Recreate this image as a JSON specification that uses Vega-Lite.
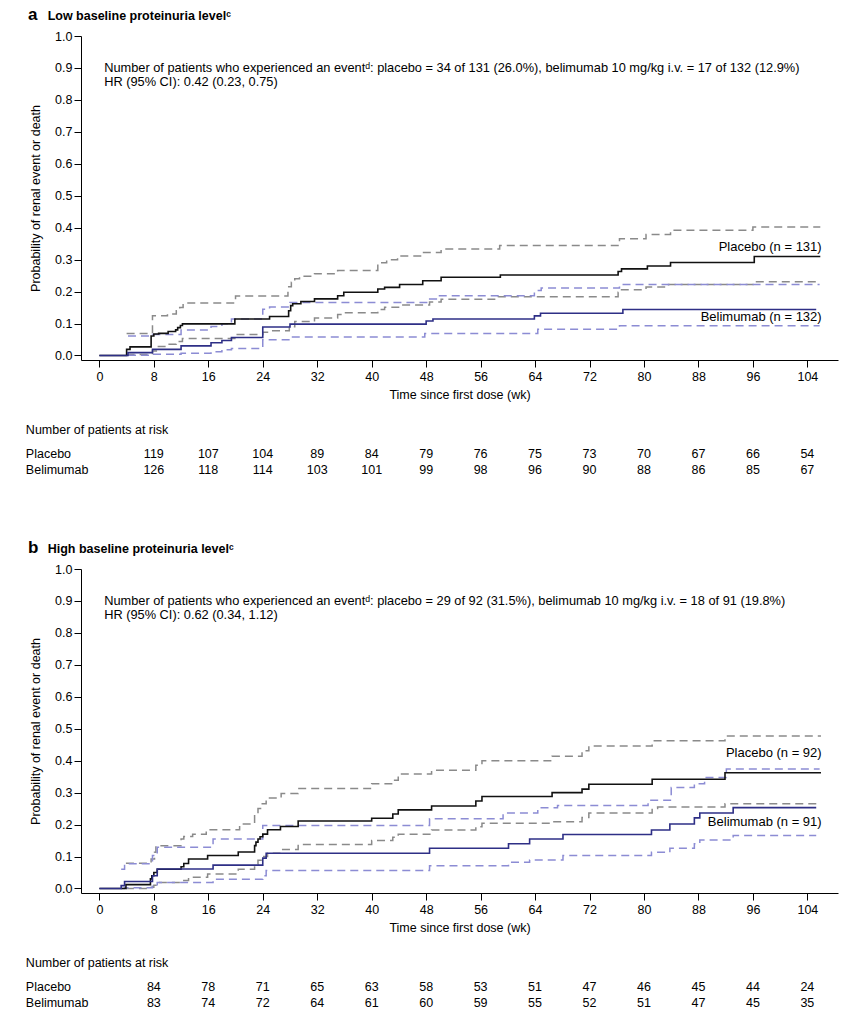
{
  "$schema": "https://vega.github.io/schema/vega-lite/v6.json",
  "padding": {"left": 25, "top": 5, "right": 5, "bottom": 5},
  "background": "white",
  "config": {
    "font": "Liberation Sans",
    "view": {"stroke": null},
    "axis": {"domainColor": "#000", "tickColor": "#000", "labelColor": "#000", "titleColor": "#000", "labelFontSize": 12.5, "titleFontSize": 12.5, "titleFontWeight": "normal", "grid": false, "tickSize": 7, "labelFont": "Liberation Sans", "titleFont": "Liberation Sans", "labelOverlap": false, "labelFlush": false},
    "axisX": {"labelPadding": 3, "titlePadding": 6},
    "axisY": {"labelPadding": 2, "titlePadding": 12},
    "title": {"color": "#000", "subtitleColor": "#000"},
    "text": {"font": "Liberation Sans", "fontSize": 12.5, "color": "#000"}
  },
  "datasets": {
    "curves": [
      {"p":"a","s":"P","w":0,"v":0},{"p":"a","s":"P","w":4.0,"v":0.019},{"p":"a","s":"P","w":4.5,"v":0.027},{"p":"a","s":"P","w":7.6,"v":0.061},{"p":"a","s":"P","w":8.0,"v":0.067},{"p":"a","s":"P","w":8.7,"v":0.069},{"p":"a","s":"P","w":10.1,"v":0.075},{"p":"a","s":"P","w":11.2,"v":0.08},{"p":"a","s":"P","w":11.5,"v":0.087},{"p":"a","s":"P","w":11.9,"v":0.094},{"p":"a","s":"P","w":12.2,"v":0.099},{"p":"a","s":"P","w":19.9,"v":0.114},{"p":"a","s":"P","w":25.0,"v":0.122},{"p":"a","s":"P","w":27.8,"v":0.14},{"p":"a","s":"P","w":28.1,"v":0.156},{"p":"a","s":"P","w":28.4,"v":0.162},{"p":"a","s":"P","w":29.6,"v":0.169},{"p":"a","s":"P","w":31.6,"v":0.177},{"p":"a","s":"P","w":35.0,"v":0.187},{"p":"a","s":"P","w":35.9,"v":0.198},{"p":"a","s":"P","w":40.9,"v":0.208},{"p":"a","s":"P","w":41.9,"v":0.213},{"p":"a","s":"P","w":44.1,"v":0.222},{"p":"a","s":"P","w":47.5,"v":0.234},{"p":"a","s":"P","w":50.2,"v":0.245},{"p":"a","s":"P","w":58.9,"v":0.252},{"p":"a","s":"P","w":76.2,"v":0.263},{"p":"a","s":"P","w":76.7,"v":0.271},{"p":"a","s":"P","w":80.5,"v":0.28},{"p":"a","s":"P","w":83.9,"v":0.291},{"p":"a","s":"P","w":96.2,"v":0.31},{"p":"a","s":"P","w":105.9,"v":0.31},
      {"p":"a","s":"PU","w":4.0,"v":0.069},{"p":"a","s":"PU","w":7.8,"v":0.124},{"p":"a","s":"PU","w":10.0,"v":0.13},{"p":"a","s":"PU","w":11.3,"v":0.14},{"p":"a","s":"PU","w":11.8,"v":0.15},{"p":"a","s":"PU","w":12.3,"v":0.164},{"p":"a","s":"PU","w":20.0,"v":0.186},{"p":"a","s":"PU","w":27.7,"v":0.215},{"p":"a","s":"PU","w":28.2,"v":0.229},{"p":"a","s":"PU","w":28.7,"v":0.24},{"p":"a","s":"PU","w":29.4,"v":0.248},{"p":"a","s":"PU","w":31.6,"v":0.256},{"p":"a","s":"PU","w":35.0,"v":0.266},{"p":"a","s":"PU","w":40.9,"v":0.29},{"p":"a","s":"PU","w":42.2,"v":0.3},{"p":"a","s":"PU","w":43.8,"v":0.311},{"p":"a","s":"PU","w":47.5,"v":0.322},{"p":"a","s":"PU","w":50.2,"v":0.333},{"p":"a","s":"PU","w":58.8,"v":0.344},{"p":"a","s":"PU","w":76.4,"v":0.365},{"p":"a","s":"PU","w":80.3,"v":0.379},{"p":"a","s":"PU","w":83.9,"v":0.392},{"p":"a","s":"PU","w":96.0,"v":0.402},{"p":"a","s":"PU","w":105.9,"v":0.402},
      {"p":"a","s":"PL","w":4.0,"v":0.003},{"p":"a","s":"PL","w":7.8,"v":0.014},{"p":"a","s":"PL","w":8.5,"v":0.028},{"p":"a","s":"PL","w":10.0,"v":0.035},{"p":"a","s":"PL","w":11.3,"v":0.044},{"p":"a","s":"PL","w":12.2,"v":0.053},{"p":"a","s":"PL","w":19.9,"v":0.066},{"p":"a","s":"PL","w":24.0,"v":0.073},{"p":"a","s":"PL","w":25.0,"v":0.077},{"p":"a","s":"PL","w":27.9,"v":0.09},{"p":"a","s":"PL","w":28.7,"v":0.106},{"p":"a","s":"PL","w":31.6,"v":0.117},{"p":"a","s":"PL","w":35.0,"v":0.128},{"p":"a","s":"PL","w":36.0,"v":0.134},{"p":"a","s":"PL","w":40.9,"v":0.144},{"p":"a","s":"PL","w":41.9,"v":0.151},{"p":"a","s":"PL","w":44.1,"v":0.158},{"p":"a","s":"PL","w":48.5,"v":0.167},{"p":"a","s":"PL","w":50.2,"v":0.176},{"p":"a","s":"PL","w":58.6,"v":0.184},{"p":"a","s":"PL","w":76.2,"v":0.198},{"p":"a","s":"PL","w":76.7,"v":0.206},{"p":"a","s":"PL","w":80.3,"v":0.214},{"p":"a","s":"PL","w":83.6,"v":0.222},{"p":"a","s":"PL","w":96.0,"v":0.231},{"p":"a","s":"PL","w":105.9,"v":0.231},
      {"p":"a","s":"B","w":0,"v":0},{"p":"a","s":"B","w":4.2,"v":0.009},{"p":"a","s":"B","w":7.8,"v":0.019},{"p":"a","s":"B","w":12.0,"v":0.03},{"p":"a","s":"B","w":16.4,"v":0.04},{"p":"a","s":"B","w":18.0,"v":0.047},{"p":"a","s":"B","w":19.4,"v":0.056},{"p":"a","s":"B","w":24.0,"v":0.089},{"p":"a","s":"B","w":28.0,"v":0.098},{"p":"a","s":"B","w":48.0,"v":0.108},{"p":"a","s":"B","w":49.0,"v":0.114},{"p":"a","s":"B","w":63.9,"v":0.124},{"p":"a","s":"B","w":64.8,"v":0.132},{"p":"a","s":"B","w":76.9,"v":0.144},{"p":"a","s":"B","w":105.3,"v":0.144},
      {"p":"a","s":"BU","w":4.2,"v":0.061},{"p":"a","s":"BU","w":7.8,"v":0.066},{"p":"a","s":"BU","w":12.0,"v":0.08},{"p":"a","s":"BU","w":16.4,"v":0.091},{"p":"a","s":"BU","w":18.0,"v":0.099},{"p":"a","s":"BU","w":19.4,"v":0.114},{"p":"a","s":"BU","w":24.0,"v":0.145},{"p":"a","s":"BU","w":25.0,"v":0.152},{"p":"a","s":"BU","w":28.0,"v":0.166},{"p":"a","s":"BU","w":48.3,"v":0.177},{"p":"a","s":"BU","w":49.5,"v":0.187},{"p":"a","s":"BU","w":63.9,"v":0.203},{"p":"a","s":"BU","w":64.9,"v":0.211},{"p":"a","s":"BU","w":76.4,"v":0.222},{"p":"a","s":"BU","w":105.8,"v":0.222},
      {"p":"a","s":"BL","w":4.2,"v":0.001},{"p":"a","s":"BL","w":7.8,"v":0.004},{"p":"a","s":"BL","w":12.0,"v":0.007},{"p":"a","s":"BL","w":16.4,"v":0.012},{"p":"a","s":"BL","w":18.0,"v":0.018},{"p":"a","s":"BL","w":19.4,"v":0.022},{"p":"a","s":"BL","w":24.0,"v":0.049},{"p":"a","s":"BL","w":28.0,"v":0.058},{"p":"a","s":"BL","w":47.8,"v":0.069},{"p":"a","s":"BL","w":64.4,"v":0.082},{"p":"a","s":"BL","w":76.4,"v":0.093},{"p":"a","s":"BL","w":105.8,"v":0.093},
      {"p":"b","s":"P","w":0,"v":0},{"p":"b","s":"P","w":3.9,"v":0.012},{"p":"b","s":"P","w":7.5,"v":0.03},{"p":"b","s":"P","w":7.7,"v":0.04},{"p":"b","s":"P","w":8.0,"v":0.05},{"p":"b","s":"P","w":8.5,"v":0.06},{"p":"b","s":"P","w":12.0,"v":0.068},{"p":"b","s":"P","w":12.4,"v":0.078},{"p":"b","s":"P","w":13.1,"v":0.092},{"p":"b","s":"P","w":15.9,"v":0.103},{"p":"b","s":"P","w":20.4,"v":0.114},{"p":"b","s":"P","w":22.8,"v":0.134},{"p":"b","s":"P","w":23.0,"v":0.145},{"p":"b","s":"P","w":23.3,"v":0.155},{"p":"b","s":"P","w":23.6,"v":0.162},{"p":"b","s":"P","w":24.0,"v":0.17},{"p":"b","s":"P","w":24.7,"v":0.184},{"p":"b","s":"P","w":26.6,"v":0.194},{"p":"b","s":"P","w":29.2,"v":0.211},{"p":"b","s":"P","w":40.0,"v":0.22},{"p":"b","s":"P","w":43.1,"v":0.233},{"p":"b","s":"P","w":43.9,"v":0.246},{"p":"b","s":"P","w":48.8,"v":0.258},{"p":"b","s":"P","w":55.3,"v":0.274},{"p":"b","s":"P","w":56.2,"v":0.288},{"p":"b","s":"P","w":66.5,"v":0.3},{"p":"b","s":"P","w":70.9,"v":0.311},{"p":"b","s":"P","w":71.9,"v":0.326},{"p":"b","s":"P","w":81.2,"v":0.342},{"p":"b","s":"P","w":91.9,"v":0.362},{"p":"b","s":"P","w":106.0,"v":0.362},
      {"p":"b","s":"PU","w":3.9,"v":0.079},{"p":"b","s":"PU","w":7.6,"v":0.092},{"p":"b","s":"PU","w":8.1,"v":0.113},{"p":"b","s":"PU","w":8.3,"v":0.134},{"p":"b","s":"PU","w":12.0,"v":0.155},{"p":"b","s":"PU","w":12.4,"v":0.163},{"p":"b","s":"PU","w":13.7,"v":0.17},{"p":"b","s":"PU","w":15.7,"v":0.184},{"p":"b","s":"PU","w":20.6,"v":0.202},{"p":"b","s":"PU","w":22.8,"v":0.232},{"p":"b","s":"PU","w":23.3,"v":0.25},{"p":"b","s":"PU","w":23.8,"v":0.265},{"p":"b","s":"PU","w":24.5,"v":0.283},{"p":"b","s":"PU","w":26.7,"v":0.297},{"p":"b","s":"PU","w":29.2,"v":0.313},{"p":"b","s":"PU","w":40.0,"v":0.328},{"p":"b","s":"PU","w":43.1,"v":0.339},{"p":"b","s":"PU","w":43.9,"v":0.358},{"p":"b","s":"PU","w":48.8,"v":0.37},{"p":"b","s":"PU","w":55.3,"v":0.386},{"p":"b","s":"PU","w":56.2,"v":0.4},{"p":"b","s":"PU","w":66.5,"v":0.414},{"p":"b","s":"PU","w":70.9,"v":0.431},{"p":"b","s":"PU","w":71.9,"v":0.446},{"p":"b","s":"PU","w":81.2,"v":0.462},{"p":"b","s":"PU","w":91.9,"v":0.477},{"p":"b","s":"PU","w":106.0,"v":0.477},
      {"p":"b","s":"PL","w":3.9,"v":0.0},{"p":"b","s":"PL","w":7.5,"v":0.004},{"p":"b","s":"PL","w":8.0,"v":0.01},{"p":"b","s":"PL","w":8.5,"v":0.019},{"p":"b","s":"PL","w":12.4,"v":0.025},{"p":"b","s":"PL","w":13.1,"v":0.035},{"p":"b","s":"PL","w":15.9,"v":0.045},{"p":"b","s":"PL","w":20.4,"v":0.06},{"p":"b","s":"PL","w":22.8,"v":0.075},{"p":"b","s":"PL","w":23.3,"v":0.088},{"p":"b","s":"PL","w":24.0,"v":0.1},{"p":"b","s":"PL","w":24.7,"v":0.11},{"p":"b","s":"PL","w":26.6,"v":0.122},{"p":"b","s":"PL","w":29.2,"v":0.138},{"p":"b","s":"PL","w":40.0,"v":0.15},{"p":"b","s":"PL","w":43.1,"v":0.16},{"p":"b","s":"PL","w":43.9,"v":0.17},{"p":"b","s":"PL","w":48.8,"v":0.183},{"p":"b","s":"PL","w":55.3,"v":0.193},{"p":"b","s":"PL","w":56.2,"v":0.204},{"p":"b","s":"PL","w":66.5,"v":0.209},{"p":"b","s":"PL","w":70.9,"v":0.222},{"p":"b","s":"PL","w":71.9,"v":0.236},{"p":"b","s":"PL","w":81.2,"v":0.25},{"p":"b","s":"PL","w":82.0,"v":0.255},{"p":"b","s":"PL","w":91.9,"v":0.265},{"p":"b","s":"PL","w":106.0,"v":0.265},
      {"p":"b","s":"B","w":0,"v":0},{"p":"b","s":"B","w":3.2,"v":0.009},{"p":"b","s":"B","w":3.7,"v":0.022},{"p":"b","s":"B","w":7.8,"v":0.04},{"p":"b","s":"B","w":8.5,"v":0.061},{"p":"b","s":"B","w":16.7,"v":0.073},{"p":"b","s":"B","w":24.0,"v":0.095},{"p":"b","s":"B","w":24.5,"v":0.11},{"p":"b","s":"B","w":48.5,"v":0.126},{"p":"b","s":"B","w":60.1,"v":0.14},{"p":"b","s":"B","w":63.2,"v":0.155},{"p":"b","s":"B","w":68.1,"v":0.169},{"p":"b","s":"B","w":81.1,"v":0.183},{"p":"b","s":"B","w":83.8,"v":0.202},{"p":"b","s":"B","w":87.4,"v":0.221},{"p":"b","s":"B","w":88.2,"v":0.236},{"p":"b","s":"B","w":93.1,"v":0.253},{"p":"b","s":"B","w":105.3,"v":0.253},
      {"p":"b","s":"BU","w":3.2,"v":0.06},{"p":"b","s":"BU","w":3.7,"v":0.077},{"p":"b","s":"BU","w":7.8,"v":0.103},{"p":"b","s":"BU","w":8.5,"v":0.129},{"p":"b","s":"BU","w":16.7,"v":0.155},{"p":"b","s":"BU","w":24.0,"v":0.197},{"p":"b","s":"BU","w":48.5,"v":0.218},{"p":"b","s":"BU","w":59.3,"v":0.236},{"p":"b","s":"BU","w":64.4,"v":0.253},{"p":"b","s":"BU","w":67.3,"v":0.26},{"p":"b","s":"BU","w":80.6,"v":0.276},{"p":"b","s":"BU","w":84.0,"v":0.316},{"p":"b","s":"BU","w":87.4,"v":0.328},{"p":"b","s":"BU","w":88.9,"v":0.347},{"p":"b","s":"BU","w":92.1,"v":0.374},{"p":"b","s":"BU","w":105.8,"v":0.374},
      {"p":"b","s":"BL","w":3.2,"v":0.0},{"p":"b","s":"BL","w":3.7,"v":0.002},{"p":"b","s":"BL","w":7.8,"v":0.008},{"p":"b","s":"BL","w":8.5,"v":0.019},{"p":"b","s":"BL","w":16.7,"v":0.029},{"p":"b","s":"BL","w":24.0,"v":0.04},{"p":"b","s":"BL","w":24.5,"v":0.056},{"p":"b","s":"BL","w":48.5,"v":0.071},{"p":"b","s":"BL","w":60.1,"v":0.082},{"p":"b","s":"BL","w":63.2,"v":0.089},{"p":"b","s":"BL","w":68.1,"v":0.103},{"p":"b","s":"BL","w":81.1,"v":0.113},{"p":"b","s":"BL","w":83.8,"v":0.126},{"p":"b","s":"BL","w":87.4,"v":0.14},{"p":"b","s":"BL","w":88.2,"v":0.152},{"p":"b","s":"BL","w":93.1,"v":0.166},{"p":"b","s":"BL","w":105.3,"v":0.166}
    ],
    "risk": [
      {"p":"a","g":"Placebo","w":8,"n":119},{"p":"a","g":"Placebo","w":16,"n":107},{"p":"a","g":"Placebo","w":24,"n":104},{"p":"a","g":"Placebo","w":32,"n":89},{"p":"a","g":"Placebo","w":40,"n":84},{"p":"a","g":"Placebo","w":48,"n":79},{"p":"a","g":"Placebo","w":56,"n":76},{"p":"a","g":"Placebo","w":64,"n":75},{"p":"a","g":"Placebo","w":72,"n":73},{"p":"a","g":"Placebo","w":80,"n":70},{"p":"a","g":"Placebo","w":88,"n":67},{"p":"a","g":"Placebo","w":96,"n":66},{"p":"a","g":"Placebo","w":104,"n":54},
      {"p":"a","g":"Belimumab","w":8,"n":126},{"p":"a","g":"Belimumab","w":16,"n":118},{"p":"a","g":"Belimumab","w":24,"n":114},{"p":"a","g":"Belimumab","w":32,"n":103},{"p":"a","g":"Belimumab","w":40,"n":101},{"p":"a","g":"Belimumab","w":48,"n":99},{"p":"a","g":"Belimumab","w":56,"n":98},{"p":"a","g":"Belimumab","w":64,"n":96},{"p":"a","g":"Belimumab","w":72,"n":90},{"p":"a","g":"Belimumab","w":80,"n":88},{"p":"a","g":"Belimumab","w":88,"n":86},{"p":"a","g":"Belimumab","w":96,"n":85},{"p":"a","g":"Belimumab","w":104,"n":67},
      {"p":"b","g":"Placebo","w":8,"n":84},{"p":"b","g":"Placebo","w":16,"n":78},{"p":"b","g":"Placebo","w":24,"n":71},{"p":"b","g":"Placebo","w":32,"n":65},{"p":"b","g":"Placebo","w":40,"n":63},{"p":"b","g":"Placebo","w":48,"n":58},{"p":"b","g":"Placebo","w":56,"n":53},{"p":"b","g":"Placebo","w":64,"n":51},{"p":"b","g":"Placebo","w":72,"n":47},{"p":"b","g":"Placebo","w":80,"n":46},{"p":"b","g":"Placebo","w":88,"n":45},{"p":"b","g":"Placebo","w":96,"n":44},{"p":"b","g":"Placebo","w":104,"n":24},
      {"p":"b","g":"Belimumab","w":8,"n":83},{"p":"b","g":"Belimumab","w":16,"n":74},{"p":"b","g":"Belimumab","w":24,"n":72},{"p":"b","g":"Belimumab","w":32,"n":64},{"p":"b","g":"Belimumab","w":40,"n":61},{"p":"b","g":"Belimumab","w":48,"n":60},{"p":"b","g":"Belimumab","w":56,"n":59},{"p":"b","g":"Belimumab","w":64,"n":55},{"p":"b","g":"Belimumab","w":72,"n":52},{"p":"b","g":"Belimumab","w":80,"n":51},{"p":"b","g":"Belimumab","w":88,"n":47},{"p":"b","g":"Belimumab","w":96,"n":45},{"p":"b","g":"Belimumab","w":104,"n":35}
    ],
    "groups": [{"g":"Placebo"},{"g":"Belimumab"}],
    "notes": [
      {"p":"a","k":"panel","t":"a"},
      {"p":"a","k":"head","t":"Low baseline proteinuria level\u1d9c"},
      {"p":"a","k":"n1","t":"Number of patients who experienced an event\u1d48: placebo = 34 of 131 (26.0%), belimumab 10 mg/kg i.v. = 17 of 132 (12.9%)"},
      {"p":"a","k":"n2","t":"HR (95% CI): 0.42 (0.23, 0.75)"},
      {"p":"a","k":"lp","t":"Placebo (n = 131)"},
      {"p":"a","k":"lb","t":"Belimumab (n = 132)"},
      {"p":"b","k":"panel","t":"b"},
      {"p":"b","k":"head","t":"High baseline proteinuria level\u1d9c"},
      {"p":"b","k":"n1","t":"Number of patients who experienced an event\u1d48: placebo = 29 of 92 (31.5%), belimumab 10 mg/kg i.v. = 18 of 91 (19.8%)"},
      {"p":"b","k":"n2","t":"HR (95% CI): 0.62 (0.34, 1.12)"},
      {"p":"b","k":"lp","t":"Placebo (n = 92)"},
      {"p":"b","k":"lb","t":"Belimumab (n = 91)"}
    ]
  },
  "spacing": 60,
  "vconcat": [
    {
      "spacing": 22,
      "vconcat": [
        {
          "width": 757,
          "height": 324,
          "encoding": {
            "x": {"type": "quantitative", "scale": {"domain": [-2.7, 108.5], "nice": false, "zero": false}, "axis": {"values": [0,8,16,24,32,40,48,56,64,72,80,88,96,104], "title": "Time since first dose (wk)"}},
            "y": {"type": "quantitative", "scale": {"domain": [-0.0142, 1], "nice": false, "zero": false}, "axis": {"values": [0,0.1,0.2,0.3,0.4,0.5,0.6,0.7,0.8,0.9,1], "format": ".1f", "title": "Probability of renal event or death"}}
          },
          "layer": [
            {
              "data": {"name": "curves"},
              "transform": [{"filter": "datum.p == 'a' && (datum.s == 'PU' || datum.s == 'PL' || datum.s == 'BU' || datum.s == 'BL')"}],
              "mark": {"type": "line", "interpolate": "step-after", "strokeWidth": 1.5, "strokeDash": [8, 5]},
              "encoding": {
                "x": {"field": "w", "type": "quantitative", "scale": {"domain": [-2.7, 108.5], "nice": false, "zero": false}, "axis": {"values": [0,8,16,24,32,40,48,56,64,72,80,88,96,104], "title": "Time since first dose (wk)"}},
                "y": {"field": "v", "type": "quantitative", "scale": {"domain": [-0.0142, 1], "nice": false, "zero": false}, "axis": {"values": [0,0.1,0.2,0.3,0.4,0.5,0.6,0.7,0.8,0.9,1], "format": ".1f", "title": "Probability of renal event or death"}},
                "color": {"field": "s", "type": "nominal", "scale": {"domain": ["PU","PL","BU","BL"], "range": ["#8a8a8a","#8a8a8a","#8c8cd4","#8c8cd4"]}, "legend": null}
              }
            },
            {
              "data": {"name": "curves"},
              "transform": [{"filter": "datum.p == 'a' && (datum.s == 'P' || datum.s == 'B')"}],
              "mark": {"type": "line", "interpolate": "step-after", "strokeWidth": 1.6},
              "encoding": {
                "x": {"field": "w", "type": "quantitative", "scale": {"domain": [-2.7, 108.5], "nice": false, "zero": false}, "axis": {"values": [0,8,16,24,32,40,48,56,64,72,80,88,96,104], "title": "Time since first dose (wk)"}},
                "y": {"field": "v", "type": "quantitative", "scale": {"domain": [-0.0142, 1], "nice": false, "zero": false}, "axis": {"values": [0,0.1,0.2,0.3,0.4,0.5,0.6,0.7,0.8,0.9,1], "format": ".1f", "title": "Probability of renal event or death"}},
                "stroke": {"field": "s", "type": "nominal", "scale": {"domain": ["P","B"], "range": ["#111111","#2e2f86"]}, "legend": null}
              }
            },
            {
              "data": {"name": "notes"},
              "transform": [{"filter": "datum.p == 'a' && datum.k == 'panel'"}],
              "mark": {"type": "text", "align": "left", "baseline": "alphabetic", "fontSize": 17, "fontWeight": "bold"},
              "encoding": {"x": {"datum": -10.5, "type": "quantitative"}, "y": {"datum": 1.051, "type": "quantitative"}, "text": {"field": "t"}}
            },
            {
              "data": {"name": "notes"},
              "transform": [{"filter": "datum.p == 'a' && datum.k == 'head'"}],
              "mark": {"type": "text", "align": "left", "baseline": "alphabetic", "fontSize": 12.5, "fontWeight": "bold"},
              "encoding": {"x": {"datum": -7.6, "type": "quantitative"}, "y": {"datum": 1.051, "type": "quantitative"}, "text": {"field": "t"}}
            },
            {
              "data": {"name": "notes"},
              "transform": [{"filter": "datum.p == 'a' && datum.k == 'n1'"}],
              "mark": {"type": "text", "align": "left", "baseline": "middle", "fontSize": 12.8},
              "encoding": {"x": {"datum": 0.7, "type": "quantitative"}, "y": {"datum": 0.9, "type": "quantitative"}, "text": {"field": "t"}}
            },
            {
              "data": {"name": "notes"},
              "transform": [{"filter": "datum.p == 'a' && datum.k == 'n2'"}],
              "mark": {"type": "text", "align": "left", "baseline": "middle", "fontSize": 12.8},
              "encoding": {"x": {"datum": 0.7, "type": "quantitative"}, "y": {"datum": 0.855, "type": "quantitative"}, "text": {"field": "t"}}
            },
            {
              "data": {"name": "notes"},
              "transform": [{"filter": "datum.p == 'a' && datum.k == 'lp'"}],
              "mark": {"type": "text", "align": "right", "baseline": "middle", "fontSize": 13},
              "encoding": {"x": {"datum": 106.1, "type": "quantitative"}, "y": {"datum": 0.339, "type": "quantitative"}, "text": {"field": "t"}}
            },
            {
              "data": {"name": "notes"},
              "transform": [{"filter": "datum.p == 'a' && datum.k == 'lb'"}],
              "mark": {"type": "text", "align": "right", "baseline": "middle", "fontSize": 13},
              "encoding": {"x": {"datum": 106.1, "type": "quantitative"}, "y": {"datum": 0.119, "type": "quantitative"}, "text": {"field": "t"}}
            }
          ],
          "resolve": {"scale": {"color": "independent", "stroke": "independent"}}
        },
        {
          "title": {"text": "Number of patients at risk", "anchor": "start", "frame": "bounds", "fontSize": 12.5, "fontWeight": "normal", "offset": 10},
          "width": 757,
          "height": 32,
          "layer": [
            {
              "data": {"name": "risk"},
              "transform": [{"filter": "datum.p == 'a'"}],
              "mark": {"type": "text", "fontSize": 12.5, "baseline": "middle"},
              "encoding": {
                "x": {"field": "w", "type": "quantitative", "scale": {"domain": [-2.7, 108.5], "nice": false, "zero": false}, "axis": null},
                "y": {"field": "g", "type": "nominal", "scale": {"type": "point", "domain": ["Placebo","Belimumab"], "padding": 0.5}, "axis": null},
                "text": {"field": "n", "type": "quantitative"}
              }
            },
            {
              "data": {"name": "groups"},
              "mark": {"type": "text", "fontSize": 12.5, "align": "left", "baseline": "middle"},
              "encoding": {
                "x": {"datum": -10.8},
                "y": {"field": "g", "type": "nominal"},
                "text": {"field": "g"}
              }
            }
          ]
        }
      ]
    },
    {
      "spacing": 22,
      "vconcat": [
        {
          "width": 757,
          "height": 324,
          "encoding": {
            "x": {"type": "quantitative", "scale": {"domain": [-2.7, 108.5], "nice": false, "zero": false}, "axis": {"values": [0,8,16,24,32,40,48,56,64,72,80,88,96,104], "title": "Time since first dose (wk)"}},
            "y": {"type": "quantitative", "scale": {"domain": [-0.0142, 1], "nice": false, "zero": false}, "axis": {"values": [0,0.1,0.2,0.3,0.4,0.5,0.6,0.7,0.8,0.9,1], "format": ".1f", "title": "Probability of renal event or death"}}
          },
          "layer": [
            {
              "data": {"name": "curves"},
              "transform": [{"filter": "datum.p == 'b' && (datum.s == 'PU' || datum.s == 'PL' || datum.s == 'BU' || datum.s == 'BL')"}],
              "mark": {"type": "line", "interpolate": "step-after", "strokeWidth": 1.5, "strokeDash": [8, 5]},
              "encoding": {
                "x": {"field": "w", "type": "quantitative", "scale": {"domain": [-2.7, 108.5], "nice": false, "zero": false}, "axis": {"values": [0,8,16,24,32,40,48,56,64,72,80,88,96,104], "title": "Time since first dose (wk)"}},
                "y": {"field": "v", "type": "quantitative", "scale": {"domain": [-0.0142, 1], "nice": false, "zero": false}, "axis": {"values": [0,0.1,0.2,0.3,0.4,0.5,0.6,0.7,0.8,0.9,1], "format": ".1f", "title": "Probability of renal event or death"}},
                "color": {"field": "s", "type": "nominal", "scale": {"domain": ["PU","PL","BU","BL"], "range": ["#8a8a8a","#8a8a8a","#8c8cd4","#8c8cd4"]}, "legend": null}
              }
            },
            {
              "data": {"name": "curves"},
              "transform": [{"filter": "datum.p == 'b' && (datum.s == 'P' || datum.s == 'B')"}],
              "mark": {"type": "line", "interpolate": "step-after", "strokeWidth": 1.6},
              "encoding": {
                "x": {"field": "w", "type": "quantitative", "scale": {"domain": [-2.7, 108.5], "nice": false, "zero": false}, "axis": {"values": [0,8,16,24,32,40,48,56,64,72,80,88,96,104], "title": "Time since first dose (wk)"}},
                "y": {"field": "v", "type": "quantitative", "scale": {"domain": [-0.0142, 1], "nice": false, "zero": false}, "axis": {"values": [0,0.1,0.2,0.3,0.4,0.5,0.6,0.7,0.8,0.9,1], "format": ".1f", "title": "Probability of renal event or death"}},
                "stroke": {"field": "s", "type": "nominal", "scale": {"domain": ["P","B"], "range": ["#111111","#2e2f86"]}, "legend": null}
              }
            },
            {
              "data": {"name": "notes"},
              "transform": [{"filter": "datum.p == 'b' && datum.k == 'panel'"}],
              "mark": {"type": "text", "align": "left", "baseline": "alphabetic", "fontSize": 17, "fontWeight": "bold"},
              "encoding": {"x": {"datum": -10.5, "type": "quantitative"}, "y": {"datum": 1.051, "type": "quantitative"}, "text": {"field": "t"}}
            },
            {
              "data": {"name": "notes"},
              "transform": [{"filter": "datum.p == 'b' && datum.k == 'head'"}],
              "mark": {"type": "text", "align": "left", "baseline": "alphabetic", "fontSize": 12.5, "fontWeight": "bold"},
              "encoding": {"x": {"datum": -7.6, "type": "quantitative"}, "y": {"datum": 1.051, "type": "quantitative"}, "text": {"field": "t"}}
            },
            {
              "data": {"name": "notes"},
              "transform": [{"filter": "datum.p == 'b' && datum.k == 'n1'"}],
              "mark": {"type": "text", "align": "left", "baseline": "middle", "fontSize": 12.8},
              "encoding": {"x": {"datum": 0.7, "type": "quantitative"}, "y": {"datum": 0.9, "type": "quantitative"}, "text": {"field": "t"}}
            },
            {
              "data": {"name": "notes"},
              "transform": [{"filter": "datum.p == 'b' && datum.k == 'n2'"}],
              "mark": {"type": "text", "align": "left", "baseline": "middle", "fontSize": 12.8},
              "encoding": {"x": {"datum": 0.7, "type": "quantitative"}, "y": {"datum": 0.855, "type": "quantitative"}, "text": {"field": "t"}}
            },
            {
              "data": {"name": "notes"},
              "transform": [{"filter": "datum.p == 'b' && datum.k == 'lp'"}],
              "mark": {"type": "text", "align": "right", "baseline": "middle", "fontSize": 13},
              "encoding": {"x": {"datum": 106.1, "type": "quantitative"}, "y": {"datum": 0.423, "type": "quantitative"}, "text": {"field": "t"}}
            },
            {
              "data": {"name": "notes"},
              "transform": [{"filter": "datum.p == 'b' && datum.k == 'lb'"}],
              "mark": {"type": "text", "align": "right", "baseline": "middle", "fontSize": 13},
              "encoding": {"x": {"datum": 106.1, "type": "quantitative"}, "y": {"datum": 0.208, "type": "quantitative"}, "text": {"field": "t"}}
            }
          ],
          "resolve": {"scale": {"color": "independent", "stroke": "independent"}}
        },
        {
          "title": {"text": "Number of patients at risk", "anchor": "start", "frame": "bounds", "fontSize": 12.5, "fontWeight": "normal", "offset": 10},
          "width": 757,
          "height": 32,
          "layer": [
            {
              "data": {"name": "risk"},
              "transform": [{"filter": "datum.p == 'b'"}],
              "mark": {"type": "text", "fontSize": 12.5, "baseline": "middle"},
              "encoding": {
                "x": {"field": "w", "type": "quantitative", "scale": {"domain": [-2.7, 108.5], "nice": false, "zero": false}, "axis": null},
                "y": {"field": "g", "type": "nominal", "scale": {"type": "point", "domain": ["Placebo","Belimumab"], "padding": 0.5}, "axis": null},
                "text": {"field": "n", "type": "quantitative"}
              }
            },
            {
              "data": {"name": "groups"},
              "mark": {"type": "text", "fontSize": 12.5, "align": "left", "baseline": "middle"},
              "encoding": {
                "x": {"datum": -10.8},
                "y": {"field": "g", "type": "nominal"},
                "text": {"field": "g"}
              }
            }
          ]
        }
      ]
    }
  ]
}
